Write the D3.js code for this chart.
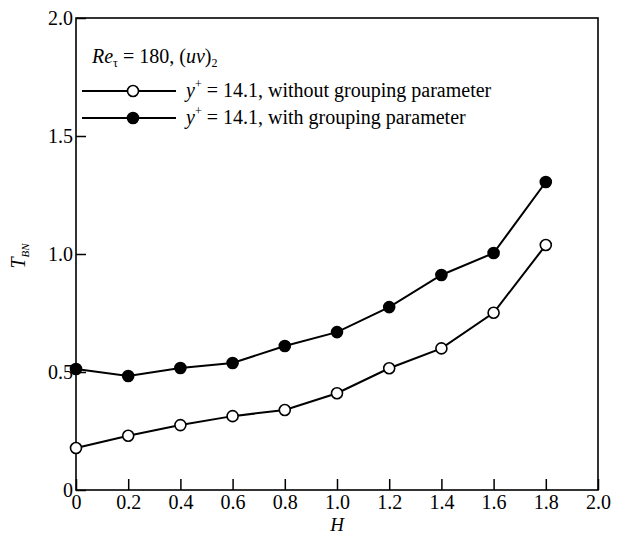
<!DOCTYPE html>
<html>
<head>
<meta charset="utf-8">
<script src="https://cdn.jsdelivr.net/npm/d3@7"></script>
<style>
  html, body { margin: 0; padding: 0; background: #fff; }
  svg { display: block; }
</style>
</head>
<body>
<svg id="chart" width="618" height="536"></svg>
<script>
const hValues = [0, 0.2, 0.4, 0.6, 0.8, 1.0, 1.2, 1.4, 1.6, 1.8];
const withoutGrouping = [0.178, 0.23, 0.275, 0.313, 0.339, 0.41, 0.516, 0.60, 0.751, 1.038];
const withGrouping = [0.513, 0.483, 0.517, 0.538, 0.61, 0.669, 0.775, 0.911, 1.004, 1.305];
const xTicks = [0, 0.2, 0.4, 0.6, 0.8, 1.0, 1.2, 1.4, 1.6, 1.8, 2.0];
const yTicks = [0, 0.5, 1.0, 1.5, 2.0];

const series = [
  { label: 'without grouping parameter', values: withoutGrouping, filled: false },
  { label: 'with grouping parameter', values: withGrouping, filled: true }
];

const FONT = '"Liberation Serif", "Times New Roman", serif';
const LEFT = 76;
const RIGHT = 598;
const TOP = 18;
const BOTTOM = 490;
const R = 5.5;
const FS = 20;

const svg = d3.select('#chart');

const x = d3.scaleLinear().domain([0, 2]).range([LEFT, RIGHT]);
const y = d3.scaleLinear().domain([0, 2]).range([BOTTOM, TOP]);

const fmt = (d) => (d === 0 ? '0' : d3.format('.1f')(d));

// frame
svg.append('rect')
  .attr('x', LEFT)
  .attr('y', TOP)
  .attr('width', RIGHT - LEFT)
  .attr('height', BOTTOM - TOP)
  .attr('fill', 'none')
  .attr('stroke', '#000')
  .attr('stroke-width', 1.6);

const xAxis = svg.append('g')
  .attr('transform', `translate(0, ${BOTTOM})`)
  .call(d3.axisBottom(x).tickValues(xTicks).tickFormat(fmt).tickSizeInner(-11).tickSizeOuter(0).tickPadding(5));

const yAxis = svg.append('g')
  .attr('transform', `translate(${LEFT}, 0)`)
  .call(d3.axisLeft(y).tickValues(yTicks).tickFormat(fmt).tickSizeInner(-10).tickSizeOuter(0).tickPadding(3));

[xAxis, yAxis].forEach((g) => {
  g.attr('font-family', FONT).attr('font-size', FS);
  g.select('.domain').remove();
  g.selectAll('.tick line').attr('stroke', '#000').attr('stroke-width', 1.5);
  g.selectAll('.tick text').attr('fill', '#000');
});
yAxis.selectAll('.tick text').attr('x', -3);

// axis titles
svg.append('text')
  .attr('x', x(1))
  .attr('y', 531)
  .attr('text-anchor', 'middle')
  .attr('font-family', FONT)
  .attr('font-style', 'italic')
  .attr('font-size', 19)
  .text('H');

const yTitle = svg.append('text')
  .attr('transform', `translate(25, 256) rotate(-90)`)
  .attr('text-anchor', 'middle')
  .attr('font-family', FONT)
  .attr('font-style', 'italic')
  .attr('font-size', FS);
yTitle.append('tspan').text('T');
yTitle.append('tspan').attr('font-size', 11).attr('dy', 4).text('BN');

// lines and markers
const line = d3.line()
  .x((d, i) => x(hValues[i]))
  .y((d) => y(d));

series.forEach((s) => {
  svg.append('path')
    .datum(s.values)
    .attr('d', line)
    .attr('fill', 'none')
    .attr('stroke', '#000')
    .attr('stroke-width', 2);

  svg.append('g')
    .selectAll('circle')
    .data(s.values)
    .join('circle')
    .attr('cx', (d, i) => x(hValues[i]))
    .attr('cy', (d) => y(d))
    .attr('r', R)
    .attr('fill', s.filled ? '#000' : '#fff')
    .attr('stroke', '#000')
    .attr('stroke-width', 1.6);
});

// legend
const legend = svg.append('g');

const head = legend.append('text')
  .attr('x', 92)
  .attr('y', 63)
  .attr('font-family', FONT)
  .attr('font-size', FS);
head.append('tspan').attr('font-style', 'italic').text('Re');
head.append('tspan').attr('font-size', 12).attr('dy', 4).text('τ');
head.append('tspan').attr('dy', -4).text(' = 180, (');
head.append('tspan').attr('font-style', 'italic').text('uv');
head.append('tspan').text(')');
head.append('tspan').attr('font-size', 12).attr('dy', 4).text('2');

series.forEach((s, i) => {
  const ly = 91 + i * 27;
  legend.append('line')
    .attr('x1', 82)
    .attr('x2', 176)
    .attr('y1', ly)
    .attr('y2', ly)
    .attr('stroke', '#000')
    .attr('stroke-width', 2);
  legend.append('circle')
    .attr('cx', 133)
    .attr('cy', ly)
    .attr('r', R)
    .attr('fill', s.filled ? '#000' : '#fff')
    .attr('stroke', '#000')
    .attr('stroke-width', 1.6);
  const t = legend.append('text')
    .attr('x', 186)
    .attr('y', ly + 6)
    .attr('font-family', FONT)
    .attr('font-size', FS);
  t.append('tspan').attr('font-style', 'italic').text('y');
  t.append('tspan').attr('font-size', 12).attr('dy', -9).text('+');
  t.append('tspan').attr('dy', 9).text(` = 14.1, ${s.label}`);
});
</script>
</body>
</html>
